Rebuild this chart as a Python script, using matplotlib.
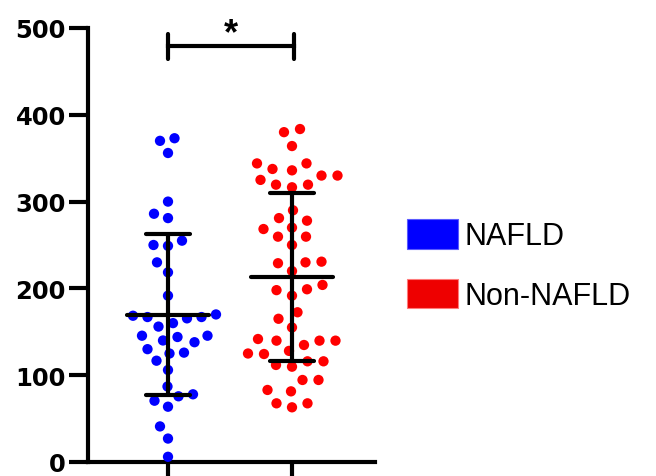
import numpy as np
import matplotlib
matplotlib.use("Agg")
import matplotlib.pyplot as plt
from matplotlib.patches import Patch

# %% Data

groups = ["NAFLD", "Non-NAFLD"]
colors = ["#0000FF", "#FF0000"]

nafld = [370, 373, 356, 300, 286, 281, 255, 249, 250, 230, 218.5, 191.6,
         167, 167, 165.5, 160, 170, 168.5, 156, 145.5, 144, 145.5, 138, 140,
         126, 130, 125, 116.7, 106, 87, 78, 70.6, 75.7, 63.7, 41, 27, 6]

non_nafld = [383.6, 380, 364, 337.6, 344, 344, 336, 325, 330, 330, 319.5,
             319.5, 316.5, 290, 281, 278, 268.4, 270, 259.6, 259.6, 250, 229,
             230.8, 230, 220, 204, 198, 199, 191.6, 172.5, 165, 155, 141.7,
             134.8, 139.8, 139.8, 139.8, 128, 124.4, 125, 111.8, 109.8, 116,
             116, 94.5, 94.5, 83, 81.4, 63, 67.6, 67.6]

yticks = [0, 100, 200, 300, 400, 500]
sig_label = "*"

# %% Layout helpers

W, H, DPI = 656, 477, 100
px_per_x = 124.0   # pixels per category unit
px_per_y = 0.868   # pixels per y unit


def swarm_offsets(vals, diam=14.5, step=0.5, maxoff=60):
    # simple beeswarm in pixel space, returns x offsets in data units
    order = np.argsort(vals)
    placed = []
    offs = np.zeros(len(vals))
    cands = np.arange(0, maxoff, step)
    cands = np.concatenate([[0], np.ravel(np.column_stack([-cands[1:], cands[1:]]))])
    for i in order:
        yp = vals[i] * px_per_y
        for c in cands:
            ok = True
            for (xq, yq) in placed:
                if (c - xq) ** 2 + (yp - yq) ** 2 < diam ** 2:
                    ok = False
                    break
            if ok:
                break
        placed.append((c, yp))
        offs[i] = c
    return offs / px_per_x


# %% Plot

plt.rcParams["font.family"] = ["Liberation Sans", "DejaVu Sans"]

fig = plt.figure(figsize=(W / DPI, H / DPI), dpi=DPI)
ax = fig.add_axes([88 / W, 1 - 463 / H, (375 - 88) / W, (463 - 29) / H])

for k, (vals, col, dm) in enumerate(zip([nafld, non_nafld], colors, [14.5, 16.0])):
    vals = np.array(vals, dtype=float)
    xc = k + 1
    xs = xc + swarm_offsets(vals, diam=dm)
    ax.scatter(xs, vals, s=55, color=col, edgecolors="none", zorder=3, clip_on=False)

    m = np.mean(vals)
    sd = np.std(vals, ddof=1)
    ax.plot([xc, xc], [m - sd, m + sd], color="black", lw=3, zorder=4,
            solid_capstyle="butt")
    ax.plot([xc - 0.33, xc + 0.33], [m, m], color="black", lw=3, zorder=4,
            solid_capstyle="round")
    for e in (m - sd, m + sd):
        ax.plot([xc - 0.18, xc + 0.18], [e, e], color="black", lw=3, zorder=4,
                solid_capstyle="round")

# significance bar
ax.plot([1, 2.02], [479, 479], color="black", lw=3, clip_on=False)
for xb in (1, 2.02):
    ax.plot([xb, xb], [464, 493], color="black", lw=3, clip_on=False,
            solid_capstyle="round")
ax.text(1.51, 483, sig_label, ha="center", va="baseline", fontsize=26,
        fontweight="bold", clip_on=False)

ax.set_xlim(1 - 80 / px_per_x, 2 + 83 / px_per_x)
ax.set_ylim(0, 500)
ax.set_yticks(yticks)
ax.set_xticks([1, 2])
ax.set_xticklabels([])
for sp in ("top", "right"):
    ax.spines[sp].set_visible(False)
for sp in ("left", "bottom"):
    ax.spines[sp].set_linewidth(3)
ax.tick_params(axis="y", length=14, width=3, pad=2, labelsize=17.5)
ax.tick_params(axis="x", length=12, width=3)
for lab in ax.get_yticklabels():
    lab.set_fontweight("bold")
    lab.set_family("DejaVu Sans")

handles = [Patch(facecolor=colors[0], edgecolor="#5a5aff", lw=0.8),
           Patch(facecolor="#EE0000", edgecolor="#ff7a7a", lw=0.8)]
fig.legend(handles, groups, loc="center left",
           bbox_to_anchor=(407 / W, 1 - 266 / H), frameon=False,
           fontsize=22, handlelength=1.67, handleheight=1.1,
           handletextpad=0.2, labelspacing=0.9, borderpad=0,
           borderaxespad=0)

fig.savefig("out.png", dpi=DPI)
